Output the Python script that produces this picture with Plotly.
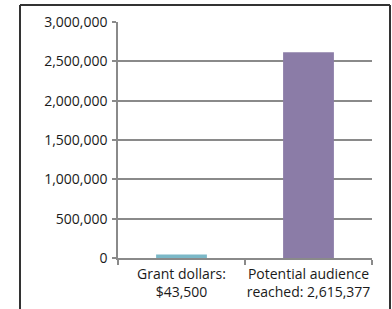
import plotly.graph_objects as go

categories = ["Grant dollars:<br>$43,500", "Potential audience<br>reached: 2,615,377"]
values = [43500, 2615377]
colors = ["#7bb8c7", "#8b7ca7"]
y_ticks = [0, 500000, 1000000, 1500000, 2000000, 2500000, 3000000]
y_tick_labels = ["0", "500,000", "1,000,000", "1,500,000", "2,000,000", "2,500,000", "3,000,000"]

W, H = 392, 309
L, R, T, B = 118, 20, 22, 51
pw, ph = W - L - R, H - T - B

def px_x(px):
    return (px - L) / pw

def px_y(py):
    return (H - B - py) / ph

fig = go.Figure(go.Bar(x=categories, y=values, marker=dict(color=colors, line=dict(width=0)), width=0.4))

grid = "#8a8a8a"
fig.update_layout(
    width=W, height=H,
    margin=dict(l=L, r=R, t=T, b=B, autoexpand=False),
    paper_bgcolor="white", plot_bgcolor="white",
    font=dict(family="Open Sans", size=14, color="#1a1a1a"),
    showlegend=False,
)
fig.update_xaxes(
    showline=True, linecolor=grid, linewidth=1.5,
    ticks="outside", tickson="boundaries", ticklen=5, tickcolor=grid, tickwidth=1.5,
    showgrid=False, tickangle=0, automargin=False, ticklabelstandoff=2,
)
fig.update_yaxes(
    range=[0, 3000000], tickvals=y_ticks, ticktext=y_tick_labels,
    showline=True, linecolor=grid, linewidth=1.5,
    ticks="outside", ticklen=4, tickcolor=grid, tickwidth=1.5,
    showgrid=True, gridcolor=grid, gridwidth=1.5, zeroline=False, automargin=False,
    ticklabelstandoff=2,
)

frame = dict(color="#333", width=2)
fig.add_shape(type="line", xref="paper", yref="paper", x0=px_x(20), x1=px_x(20), y0=px_y(5), y1=px_y(320), line=frame)
fig.add_shape(type="line", xref="paper", yref="paper", x0=px_x(20), x1=px_x(390), y0=px_y(5), y1=px_y(5), line=frame)
fig.add_shape(type="line", xref="paper", yref="paper", x0=px_x(390), x1=px_x(390), y0=px_y(5), y1=px_y(320), line=frame)

fig.write_html("out.html", config={"displayModeBar": False},
               post_script="document.body.style.margin='0';document.body.style.overflow='hidden';")
